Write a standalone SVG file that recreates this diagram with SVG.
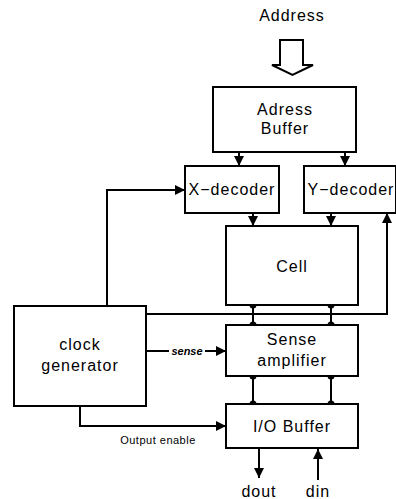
<svg xmlns="http://www.w3.org/2000/svg" width="396" height="499" viewBox="0 0 396 499">
<defs>
<style>
.box{fill:#fff;stroke:#000;stroke-width:2}
.t{font-family:"Liberation Sans",Arial,sans-serif;font-size:16px;letter-spacing:1px;fill:#000;text-anchor:middle}
.s{font-family:"Liberation Sans",Arial,sans-serif;font-size:11px;fill:#000}
.ln{fill:none;stroke:#000;stroke-width:2}
.dot{fill:#000}
</style>
<marker id="ah" viewBox="0 0 10 10" refX="10" refY="5" markerWidth="5" markerHeight="5" orient="auto" markerUnits="strokeWidth">
<path d="M0,0 L10,5 L0,10 z" fill="#000"/>
</marker>
</defs>
<rect width="396" height="499" fill="#fff"/>
<text class="t" x="292" y="21">Address</text>
<g id="address-arrow">
<path d="M280,40 H303 V65 H313 L292.5,75 L272,65 H280 Z" fill="#fff" stroke="#000" stroke-width="2"/>
</g>
<g id="connectors">
<path class="ln" d="M239,152 V166" marker-end="url(#ah)"/>
<path class="ln" d="M345,152 V166" marker-end="url(#ah)"/>
<path class="ln" d="M253,213 V226" marker-end="url(#ah)"/>
<path class="ln" d="M331,213 V226" marker-end="url(#ah)"/>
<path class="ln" d="M107,306 V190 H185" marker-end="url(#ah)"/>
<path class="ln" d="M146,314 H387 V213" marker-end="url(#ah)"/>
<path class="ln" d="M253,305 V325"/>
<path class="ln" d="M331,305 V325"/>
<path class="ln" d="M253,376 V404"/>
<path class="ln" d="M331,376 V404"/>
<path class="ln" d="M146,351 H169"/>
<path class="ln" d="M205,351 H226" marker-end="url(#ah)"/>
<path class="ln" d="M80,406 V426 H226" marker-end="url(#ah)"/>
<path class="ln" d="M259,448 V478" marker-end="url(#ah)"/>
<path class="ln" d="M318,480 V449" marker-end="url(#ah)"/>
<circle class="dot" cx="253" cy="305" r="3.5"/>
<circle class="dot" cx="331" cy="305" r="3.5"/>
<circle class="dot" cx="253" cy="325" r="3.5"/>
<circle class="dot" cx="331" cy="325" r="3.5"/>
<circle class="dot" cx="253" cy="376" r="3.5"/>
<circle class="dot" cx="331" cy="376" r="3.5"/>
<circle class="dot" cx="253" cy="404" r="3.5"/>
<circle class="dot" cx="331" cy="404" r="3.5"/>
<text class="s" x="187" y="355" text-anchor="middle" font-style="italic" font-weight="bold" font-size="10">sense</text>
<text class="s" x="158" y="444" text-anchor="middle" letter-spacing="0.5">Output enable</text>
</g>
<g id="adress-buffer">
<rect class="box" x="213" y="87" width="143" height="65"/>
<text class="t" x="285" y="115">Adress</text>
<text class="t" x="285" y="134">Buffer</text>
</g>
<g id="x-decoder">
<rect class="box" x="185" y="166" width="94" height="47"/>
<text class="t" x="232" y="195">X−decoder</text>
</g>
<g id="y-decoder">
<rect class="box" x="304" y="166" width="92" height="47"/>
<text class="t" x="351" y="195">Y−decoder</text>
</g>
<g id="cell">
<rect class="box" x="226" y="226" width="132" height="79"/>
<text class="t" x="292" y="272">Cell</text>
</g>
<g id="clock-generator">
<rect class="box" x="14" y="306" width="132" height="100"/>
<text class="t" x="80" y="350" font-size="17">clock</text>
<text class="t" x="80" y="371" font-size="17">generator</text>
</g>
<g id="sense-amplifier">
<rect class="box" x="226" y="325" width="132" height="51"/>
<text class="t" x="292" y="345">Sense</text>
<text class="t" x="292" y="366">amplifier</text>
</g>
<g id="io-buffer">
<rect class="box" x="226" y="404" width="132" height="44"/>
<text class="t" x="292" y="432" font-size="17">I/O Buffer</text>
</g>
<text class="t" x="259" y="497">dout</text>
<text class="t" x="318" y="497">din</text>
</svg>
